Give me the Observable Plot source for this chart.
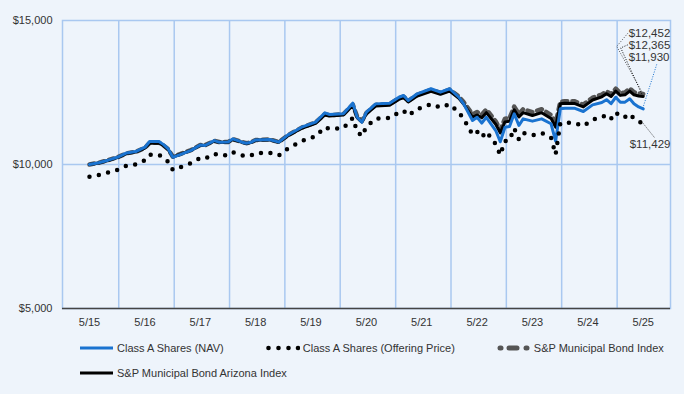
<!DOCTYPE html>
<html>
<head>
<meta charset="utf-8">
<script src="https://cdn.jsdelivr.net/npm/d3@7"></script>
<script src="https://cdn.jsdelivr.net/npm/@observablehq/plot@0.6"></script>
<style>
  html, body { margin: 0; padding: 0; background: #eef4fb; }
  body { width: 684px; height: 394px; overflow: hidden; font-family: "Liberation Sans", Arial, sans-serif; color: #333; }
  #legend { display: flex; flex-wrap: wrap; width: 600px; margin-left: 80px; column-gap: 42px; font-size: 11px; }
  .item { display: flex; align-items: center; height: 25px; white-space: nowrap; }
  .item svg { margin-right: 3px; }
</style>
</head>
<body>
<div id="chart"></div>
<div id="legend"></div>
<script>
// ---- data ----
const dates = ["2015-05","2015-07","2015-09","2015-11","2016-01","2016-03","2016-05","2016-06","2016-08","2016-09","2016-10","2016-11",
"2017-01","2017-03","2017-05","2017-06","2017-08","2017-09","2017-11","2017-12","2018-02","2018-03","2018-04","2018-05","2018-08","2018-10","2018-12",
"2019-01","2019-03","2019-06","2019-08","2019-09","2019-12","2020-02","2020-03","2020-04","2020-05","2020-07","2020-10","2020-12",
"2021-01","2021-02","2021-04","2021-07","2021-09","2021-11","2022-01","2022-02","2022-04","2022-05","2022-06","2022-07","2022-09","2022-10","2022-11","2022-12",
"2023-01","2023-02","2023-03","2023-05","2023-07","2023-09","2023-10","2023-11","2023-12","2024-02","2024-04","2024-06","2024-08","2024-09","2024-10","2024-11","2024-12",
"2025-01","2025-02","2025-03","2025-04","2025-05"];

const navValues = [10000,10060,10150,10250,10400,10450,10600,10800,10800,10690,10545,10250,
10370,10490,10680,10660,10830,10775,10780,10890,10775,10740,10770,10855,10870,10775,11030,
11120,11295,11470,11795,11735,11760,12130,11640,11470,11815,12105,12130,12335,
12395,12220,12455,12630,12510,12630,12335,12105,11530,11640,11435,11640,11180,10790,11295,11320,
11760,11355,11585,11505,11585,11415,10810,11935,11955,11955,11840,12070,12150,12250,12110,12335,12165,
12165,12280,12110,12000,11930];

const offeringValues = [9575,9632,9719,9814,9958,10006,10150,10341,10341,10236,10097,9814,
9929,10044,10226,10207,10370,10317,10322,10427,10317,10284,10312,10394,10408,10317,10561,
10647,10815,10983,11294,11236,11260,11614,11145,10983,11313,11591,11614,11811,
11868,11701,11926,12093,11978,12093,11811,11591,11040,11145,10949,11145,10705,10331,10815,10839,
11260,10872,11093,11016,11093,10930,10351,11428,11447,11447,11337,11557,11634,11729,11595,11811,11648,
11648,11758,11595,11490,11429];

const muniValues = [10000,10060,10150,10250,10390,10440,10580,10750,10760,10660,10530,10270,
10390,10500,10680,10670,10820,10780,10780,10880,10780,10740,10770,10850,10870,10780,11020,
11110,11280,11460,11750,11710,11750,12080,11660,11510,11790,12070,12100,12300,
12360,12210,12420,12590,12490,12600,12360,12170,11740,11820,11730,11910,11500,11200,11590,11610,
12010,11760,11920,11820,11920,11720,11420,12180,12200,12200,12080,12320,12430,12540,12440,12630,12480,
12500,12640,12510,12470,12452];

const arizonaValues = [10000,10050,10140,10240,10380,10430,10570,10740,10750,10650,10520,10260,
10380,10490,10670,10660,10810,10770,10770,10870,10770,10730,10760,10840,10860,10770,11000,
11090,11260,11430,11720,11680,11720,12050,11620,11480,11760,12030,12060,12260,
12320,12170,12380,12540,12440,12550,12300,12100,11640,11720,11620,11800,11400,11100,11480,11500,
11900,11650,11800,11700,11800,11600,11300,12110,12130,12120,12000,12240,12350,12460,12360,12550,12400,
12420,12550,12420,12380,12365];

const seriesNames = ["Class A Shares (NAV)", "Class A Shares (Offering Price)", "S&P Municipal Bond Index", "S&P Municipal Bond Arizona Index"];
const yTicks = [5000, 10000, 15000];
const yTickLabels = ["$5,000", "$10,000", "$15,000"];
const xTickDates = ["2015-05","2016-05","2017-05","2018-05","2019-05","2020-05","2021-05","2022-05","2023-05","2024-05","2025-05"];
const xTickLabels = ["5/15","5/16","5/17","5/18","5/19","5/20","5/21","5/22","5/23","5/24","5/25"];
const gridDates = ["2015-11-10","2016-11-10","2017-11-10","2018-11-10","2019-11-10","2020-11-10","2021-11-10","2022-11-10","2023-11-10","2024-11-10"];

// ---- build ----
const parse = s => new Date(s.length === 7 ? s + "-01T00:00:00Z" : s + "T00:00:00Z");
const mk = vals => dates.map((d, i) => ({date: parse(d), value: vals[i]}));
const nav = mk(navValues), offering = mk(offeringValues), muni = mk(muniValues), arizona = mk(arizonaValues);

const BLUE = "#1a73d0", GRID = "#a9c8f0";

const endLabels = [
  {data: muni, text: [-14, -60], path: [[-15, -60], [-26, -47], [0, 0]], leaderColor: "#555"},
  {data: arizona, text: [-14, -51], path: [[-15, -51], [-22, -48], [0, 0]], leaderColor: "#111"},
  {data: nav, text: [-14, -51], path: [[14, -44], [0, 0]], leaderColor: BLUE},
  {data: offering, text: [-13, 21], path: [[0, 0], [12, 15]], leaderColor: "#333"}
];

function endLabelMark(index, scales) {
  const g = d3.create("svg:g");
  for (const L of endLabels) {
    const last = L.data[L.data.length - 1];
    const ex = scales.x(last.date), ey = scales.y(last.value);
    g.append("path")
      .attr("d", d3.line()(L.path.map(([dx, dy]) => [ex + dx, ey + dy])))
      .attr("fill", "none").attr("stroke", L.leaderColor).attr("stroke-width", 1)
      .attr("stroke-dasharray", "1,1.5");
    g.append("text")
      .attr("x", ex + L.text[0]).attr("y", ey + L.text[1]).attr("dy", "0.35em")
      .attr("text-anchor", "start")
      .attr("fill", "#333").attr("font-size", 11.5)
      .text(d3.format("$,.0f")(last.value));
  }
  return g.node();
}

const chart = Plot.plot({
  width: 684, height: 335,
  marginLeft: 62, marginRight: 14, marginTop: 20, marginBottom: 27,
  style: {background: "transparent", fontFamily: "'Liberation Sans', Arial, sans-serif", fontSize: "11px", color: "#333", overflow: "visible"},
  x: {type: "utc", domain: [new Date("2014-11-04T00:00:00Z"), new Date("2025-10-28T00:00:00Z")], axis: null},
  y: {domain: [5000, 15000], axis: null},
  marks: [
    Plot.ruleX(gridDates.map(parse), {stroke: GRID, strokeWidth: 1.5}),
    Plot.ruleY([10000], {stroke: GRID, strokeWidth: 1.5}),
    Plot.frame({stroke: GRID, strokeWidth: 1.5}),
    Plot.ruleY([5000], {stroke: "#444", strokeWidth: 1.5}),
    Plot.text(yTickLabels, {y: (d, i) => yTicks[i], frameAnchor: "left", dx: -10, textAnchor: "end", fill: "#333", fontSize: 11}),
    Plot.text(xTickLabels, {x: (d, i) => parse(xTickDates[i]), frameAnchor: "bottom", dy: 17, fill: "#333", fontSize: 11}),
    Plot.line(muni, {x: "date", y: "value", stroke: "#555", strokeWidth: 4.5, strokeDasharray: "5,5", strokeLinecap: "round"}),
    Plot.line(arizona, {x: "date", y: "value", stroke: "#000", strokeWidth: 3}),
    Plot.line(nav, {x: "date", y: "value", stroke: BLUE, strokeWidth: 3}),
    Plot.line(offering, {x: "date", y: "value", stroke: "#000", strokeWidth: 4.5, strokeDasharray: "0,9.5", strokeLinecap: "round"}),
    endLabelMark
  ]
});
document.getElementById("chart").appendChild(chart);

// ---- legend ----
const swatches = [
  `<svg width="34" height="12"><line x1="0" y1="6" x2="33" y2="6" stroke="${BLUE}" stroke-width="3"/></svg>`,
  `<svg width="34" height="12">${[2.5, 12.5, 22.5, 32].map(c => `<circle cx="${c}" cy="6" r="2.3" fill="#000"/>`).join("")}</svg>`,
  `<svg width="34" height="12"><g stroke="#555" stroke-width="5" stroke-linecap="round"><line x1="3" y1="6" x2="4" y2="6"/><line x1="12" y1="6" x2="20" y2="6"/><line x1="29" y1="6" x2="30" y2="6"/></g></svg>`,
  `<svg width="34" height="12"><line x1="0" y1="6" x2="33" y2="6" stroke="#000" stroke-width="3"/></svg>`
];
const legend = document.getElementById("legend");
seriesNames.forEach((name, i) => {
  const div = document.createElement("div");
  div.className = "item";
  div.innerHTML = swatches[i] + `<span>${name}</span>`;
  legend.appendChild(div);
});
</script>
</body>
</html>
